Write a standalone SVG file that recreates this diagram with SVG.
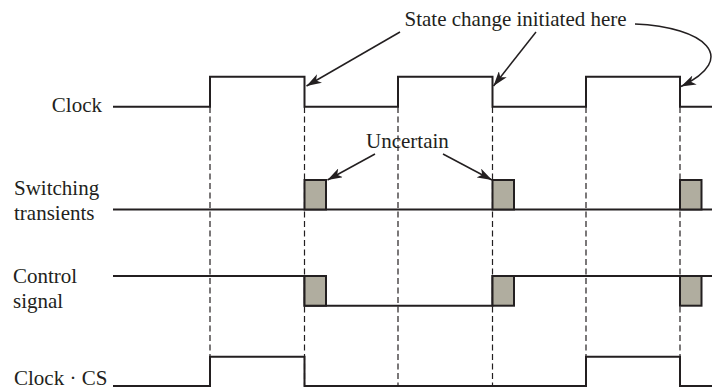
<svg xmlns="http://www.w3.org/2000/svg" width="712" height="390" viewBox="0 0 712 390">
<style>
.sig{fill:none;stroke:#231f20;stroke-width:2;stroke-linejoin:miter}
.dash{fill:none;stroke:#231f20;stroke-width:1.2;stroke-dasharray:6 3.5}
.box{fill:#b0ad9f;stroke:#231f20;stroke-width:2}
.lbl{font-family:"Liberation Serif","Times New Roman",serif;font-size:21px;fill:#231f20}
.arr{fill:none;stroke:#231f20;stroke-width:1.5;marker-end:url(#ah)}
</style>
<defs>
<marker id="ah" markerUnits="userSpaceOnUse" markerWidth="16" markerHeight="10" refX="15" refY="5" orient="auto" viewBox="0 0 16 10">
<path d="M0,0 L15,5 L0,10 L4,5 z" fill="#231f20"/>
</marker>
</defs>
<rect width="712" height="390" fill="#ffffff"/>
<g id="guides">
<path class="dash" d="M210,107V386M304.5,107V386M398,107V386M492.5,107V386M586,107V386M680,107V386"/>
</g>
<g id="clock">
<text class="lbl" x="102" y="112" text-anchor="end">Clock</text>
<path class="sig" d="M113,106.7H210V76.7H304.5V106.7H398V76.7H492.5V106.7H586V76.7H680V106.7H712"/>
</g>
<g id="switching">
<text class="lbl" x="14" y="195">Switching</text>
<text class="lbl" x="14" y="220">transients</text>
<path class="sig" d="M113,209.5H712"/>
<rect class="box" x="304.5" y="180" width="21.5" height="29.5"/>
<rect class="box" x="492.5" y="180" width="21.5" height="29.5"/>
<rect class="box" x="680" y="180" width="21.5" height="29.5"/>
</g>
<g id="control">
<text class="lbl" x="13" y="283">Control</text>
<text class="lbl" x="13" y="308">signal</text>
<path class="sig" d="M113,276H304.5V305.7H492.5V276H712"/>
<rect class="box" x="304.5" y="276" width="21.5" height="29.7"/>
<rect class="box" x="492.5" y="276" width="21.5" height="29.7"/>
<rect class="box" x="680" y="276" width="21.5" height="29.7"/>
</g>
<g id="clockcs">
<text class="lbl" x="14" y="385">Clock · CS</text>
<path class="sig" d="M113,386H210V356.7H304.5V386H586V356.7H680V386H712"/>
</g>
<g id="state-label">
<text class="lbl" x="404.5" y="26">State change initiated here</text>
</g>
<g id="uncertain-label">
<text class="lbl" x="366" y="148">Uncertain</text>
</g>
<g id="connectors">
<path class="arr" d="M400,32L306.5,86"/>
<path class="arr" d="M536,32L493.5,86"/>
<path class="arr" d="M635,24C705,27 740,58 681,86.5"/>
<path class="arr" d="M375,154L327.5,180"/>
<path class="arr" d="M443,154L492,180"/>
</g>
</svg>
